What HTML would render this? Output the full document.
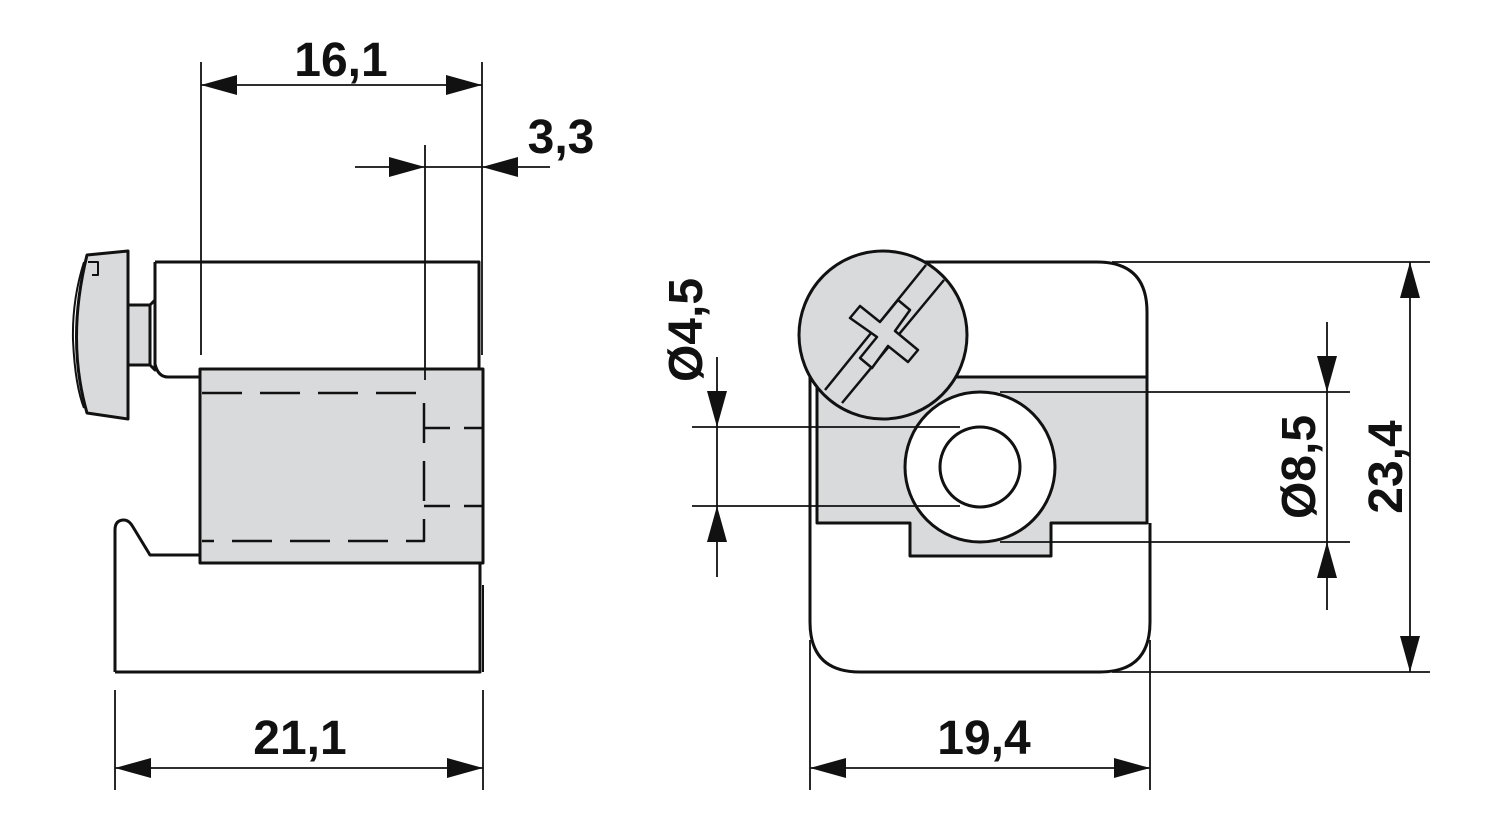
<!DOCTYPE html>
<html><head><meta charset="utf-8"><style>
html,body{margin:0;padding:0;background:#fff;}
svg{display:block}
text{font-family:"Liberation Sans",sans-serif;font-weight:bold;font-size:48px;fill:#111}
</style></head><body>
<svg width="1500" height="820" viewBox="0 0 1500 820" xmlns="http://www.w3.org/2000/svg">
<defs>
<marker id="a" viewBox="0 0 36 20" refX="36" refY="10" markerWidth="36" markerHeight="20" markerUnits="userSpaceOnUse" orient="auto">
<path d="M0,0 L36,10 L0,20 Z" fill="#111"/></marker>
</defs>
<g stroke="#111" fill="none" stroke-width="3" stroke-linejoin="round">
<path d="M87,255 L128,251 L128,419 L87,413 Q66,340 87,255 Z" fill="#d9dadc"/>
<path d="M84,262 Q72,300 73,340 Q75,385 84,408" stroke-width="2"/>
<path d="M88,262 L98,262 L98,275 L92,275" stroke-width="2"/>
<path d="M128,305 L150,305 L150,365 L128,365 Z" fill="#d9dadc"/>
<path d="M150,305 L155,300 L155,370 L150,365" />
<path d="M155,262 L479,262 L479,369 M155,262 L155,364 Q158,377 168,377 L200,377"/>
<rect x="200" y="369" width="283" height="194" fill="#d9dadc"/>
<path d="M115,672 L115,530 Q115,520 124,520 Q129,520 133,527 L150,555 L200,555"/>
<path d="M115,672 L480,672 L480,563"/>
<path d="M483,585 L483,672" stroke-width="2"/>
<g stroke-dasharray="40,18" stroke-width="2.5">
<path d="M202,393 L424,393 L424,541 L202,541"/>
</g>
<g stroke-dasharray="26,14" stroke-width="2.5">
<path d="M424,428 L483,428 M424,506 L483,506"/>
</g>
<path d="M925,262 L1097,262 Q1147,262 1147,312 L1147,377"/>
<path d="M810,373 L810,622 Q810,672 860,672 L1100,672 Q1150,672 1150,622 L1150,523"/>
<path d="M817,377 L1147,377 L1147,523 L1051,523 L1051,556 L910,556 L910,523 L817,523 Z" fill="#d9dadc"/>
<circle cx="980" cy="467" r="75" fill="#fff"/>
<circle cx="980" cy="467" r="40"/>
<circle cx="883" cy="335" r="84" fill="#d9dadc"/>
<path d="M825,390 L926,265 M842,403 L944,280" stroke-width="2.5"/>
<path d="M850,318 L860,306 L880,322 L898,300 L910,310 L895,331 L918,350 L908,362 L888,346 L872,368 L860,358 L877,337 Z" fill="#d9dadc" stroke-width="2.5"/>
</g>
<g stroke="#111" stroke-width="1.8" fill="none">
<path d="M201,62 L201,355 M482,62 L482,355 M425,145 L425,380"/>
<line x1="240" y1="85" x2="201" y2="85" marker-end="url(#a)"/>
<line x1="240" y1="85" x2="482" y2="85" marker-end="url(#a)"/>
<line x1="355" y1="167" x2="425" y2="167" marker-end="url(#a)"/>
<line x1="550" y1="167" x2="482" y2="167" marker-end="url(#a)"/>
<line x1="425" y1="167" x2="482" y2="167"/>
<path d="M115,690 L115,790 M483,690 L483,790"/>
<line x1="300" y1="768" x2="115" y2="768" marker-end="url(#a)"/>
<line x1="300" y1="768" x2="483" y2="768" marker-end="url(#a)"/>
<path d="M810,640 L810,790 M1150,640 L1150,790"/>
<line x1="980" y1="768" x2="810" y2="768" marker-end="url(#a)"/>
<line x1="980" y1="768" x2="1150" y2="768" marker-end="url(#a)"/>
<path d="M1112,262 L1430,262 M1112,672 L1430,672"/>
<line x1="1410" y1="467" x2="1410" y2="262" marker-end="url(#a)"/>
<line x1="1410" y1="467" x2="1410" y2="672" marker-end="url(#a)"/>
<path d="M1000,392 L1350,392 M1000,542 L1350,542"/>
<line x1="1327" y1="322" x2="1327" y2="392" marker-end="url(#a)"/>
<line x1="1327" y1="610" x2="1327" y2="542" marker-end="url(#a)"/>
<line x1="1327" y1="392" x2="1327" y2="542"/>
<path d="M692,427 L960,427 M692,506 L960,506"/>
<line x1="717" y1="357" x2="717" y2="427" marker-end="url(#a)"/>
<line x1="717" y1="577" x2="717" y2="506" marker-end="url(#a)"/>
<line x1="717" y1="427" x2="717" y2="506"/>
</g>
<text x="341" y="76" text-anchor="middle">16,1</text>
<text x="561" y="153" text-anchor="middle">3,3</text>
<text x="300" y="754" text-anchor="middle">21,1</text>
<text x="984" y="754" text-anchor="middle">19,4</text>
<text transform="translate(1402,467) rotate(-90)" text-anchor="middle">23,4</text>
<text transform="translate(1315,467) rotate(-90)" text-anchor="middle">Ø8,5</text>
<text transform="translate(702,330) rotate(-90)" text-anchor="middle">Ø4,5</text>
</svg>
</body></html>
